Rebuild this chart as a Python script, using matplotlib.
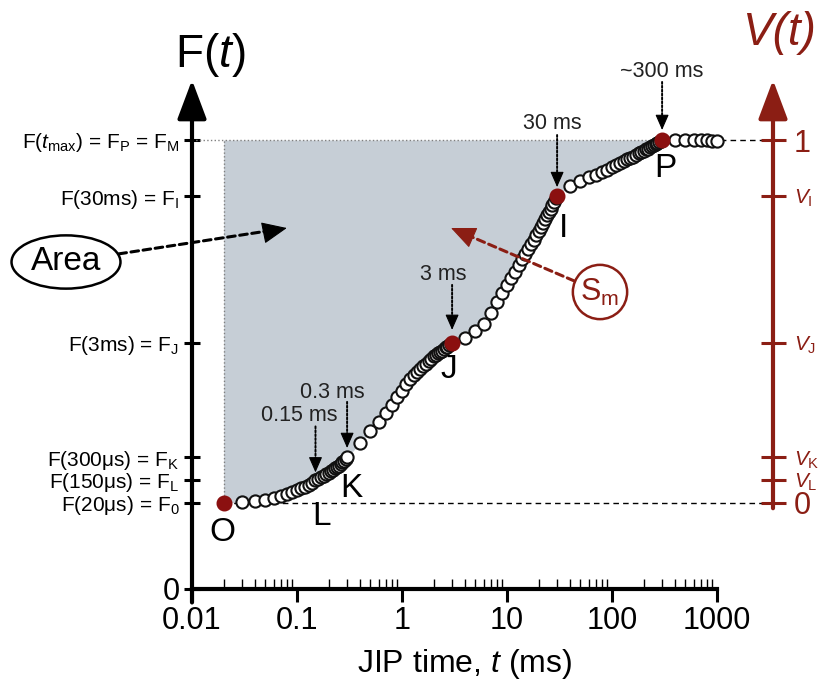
import matplotlib
matplotlib.use("Agg")
import matplotlib.pyplot as plt
from matplotlib.ticker import FixedLocator

plt.rcParams['font.family'] = 'Liberation Sans'
plt.rcParams['mathtext.fontset'] = 'custom'
plt.rcParams['mathtext.rm'] = 'Liberation Sans'
plt.rcParams['mathtext.it'] = 'Liberation Sans:italic'
plt.rcParams['mathtext.bf'] = 'Liberation Sans:bold'

# OJIP fluorescence transient, relative units (F_M = 1)
time_ms = [0.02, 0.03, 0.04, 0.05, 0.06, 0.07, 0.08, 0.09, 0.10, 0.11,
           0.12, 0.13, 0.14, 0.15, 0.16, 0.17, 0.18, 0.19, 0.20, 0.21,
           0.22, 0.23, 0.24, 0.25, 0.26, 0.27, 0.28, 0.29, 0.30,
           0.4, 0.5, 0.6, 0.7, 0.8, 0.9, 1.0, 1.1, 1.2, 1.3, 1.4, 1.5, 1.6,
           1.7, 1.8, 1.9, 2.0, 2.1, 2.2, 2.3, 2.4, 2.5, 2.6, 2.7, 2.8, 2.9, 3.0,
           4, 5, 6, 7, 8, 9, 10, 11, 12, 13, 14, 15, 16, 17, 18, 19, 20, 21,
           22, 23, 24, 25, 26, 27, 28, 29, 30,
           40, 50, 60, 70, 80, 90, 100, 110, 120, 130, 140, 150, 160, 170,
           180, 190, 200, 210, 220, 230, 240, 250, 260, 270, 280, 290, 300,
           400, 500, 600, 700, 800, 900, 1000]
fluor = [0.192, 0.193, 0.195, 0.199, 0.203, 0.207, 0.211, 0.216, 0.221, 0.224,
         0.228, 0.232, 0.237, 0.243, 0.246, 0.249, 0.252, 0.256, 0.259, 0.262,
         0.266, 0.269, 0.272, 0.275, 0.278, 0.283, 0.286, 0.290, 0.293,
         0.325, 0.351, 0.373, 0.392, 0.410, 0.428, 0.442, 0.456, 0.467, 0.476,
         0.483, 0.489, 0.496, 0.502, 0.508, 0.513, 0.518, 0.521, 0.526, 0.528,
         0.531, 0.535, 0.538, 0.540, 0.543, 0.546, 0.548,
         0.559, 0.574, 0.591, 0.615, 0.639, 0.659, 0.677, 0.693, 0.707, 0.722,
         0.734, 0.746, 0.757, 0.768, 0.778, 0.788, 0.797, 0.806, 0.815, 0.824,
         0.832, 0.840, 0.847, 0.855, 0.863, 0.870, 0.875,
         0.898, 0.908, 0.917, 0.923, 0.929, 0.934, 0.940, 0.944, 0.949, 0.953,
         0.957, 0.960, 0.963, 0.967, 0.970, 0.973, 0.976, 0.979, 0.981, 0.984,
         0.987, 0.989, 0.991, 0.993, 0.996, 0.998, 1.000,
         1.000, 1.000, 0.999, 0.999, 0.999, 0.998, 0.998]

key_names = ['O', 'L', 'K', 'J', 'I', 'P']
key_times = [0.02, 0.15, 0.3, 3.0, 30, 300]
red_names = ['O', 'J', 'I', 'P']
time_notes = {'L': '0.15 ms', 'K': '0.3 ms', 'J': '3 ms', 'I': '30 ms', 'P': '~300 ms'}

f_labels = ['0', 'F(20μs) = F$_\\mathrm{0}$', 'F(150μs) = F$_\\mathrm{L}$',
            'F(300μs) = F$_\\mathrm{K}$', 'F(3ms) = F$_\\mathrm{J}$',
            'F(30ms) = F$_\\mathrm{I}$',
            'F($t_\\mathrm{max}$) = F$_\\mathrm{P}$ = F$_\\mathrm{M}$']
v_labels = ['0', '$V_\\mathrm{L}$', '$V_\\mathrm{K}$', '$V_\\mathrm{J}$',
            '$V_\\mathrm{I}$', '1']
x_ticks = [0.01, 0.1, 1, 10, 100, 1000]
x_ticklabels = ['0.01', '0.1', '1', '10', '100', '1000']

RED = '#8b1e14'
DOT = '#8b1010'
HEAD = '-|>,head_length=0.8,head_width=0.35'

key_f = {n: fluor[time_ms.index(t)] for n, t in zip(key_names, key_times)}
key_t = dict(zip(key_names, key_times))
F0, FM = key_f['O'], key_f['P']

fig = plt.figure(figsize=(8.23, 6.84), dpi=100)
ax = fig.add_axes([192 / 823, 95 / 684, 581 / 823, 509 / 684])
ax.set_xscale('log')
xmax = 0.01 * 10 ** (581 / 105)
ytop = 509 / 449
ax.set_xlim(0.01, xmax)
ax.set_ylim(0, ytop)


def head(xy, off, color, scale=12, gap=0):
    # solid arrow head at xy, pointing from offset `off` (points)
    ax.annotate('', xy, xytext=off, textcoords='offset points', zorder=7,
                arrowprops=dict(arrowstyle=HEAD, mutation_scale=scale, lw=0.8,
                                color=color, shrinkA=0, shrinkB=gap))


# shaded area above the curve
t_area = [t for t in time_ms if t <= 300]
f_area = fluor[:len(t_area)]
ax.fill_between(t_area, f_area, FM, color='#c6ced6', lw=0, zorder=1)
ax.plot([0.02, 0.02], [F0, FM], ls=':', color='#808080', lw=1, zorder=2)
ax.plot([0.01, 300], [FM, FM], ls=':', color='#808080', lw=1, zorder=2)
ax.plot([300, xmax], [FM, FM], ls=(0, (4, 3)), color='black', lw=1, zorder=2)
ax.plot([0.02, xmax], [F0, F0], ls=(0, (4, 3)), color='black', lw=1, zorder=2)

ax.plot(time_ms, fluor, 'o', mfc='white', mec='#111111', ms=8.8, mew=1.5, zorder=4)
ax.plot([key_t[n] for n in red_names], [key_f[n] for n in red_names], 'o',
        color=DOT, ms=10.5, zorder=5)

letter_off = {'O': (-1, -21.6), 'L': (4, -26.3), 'K': (2.9, -22.7),
              'J': (-2.2, -19.4), 'I': (4.3, -23), 'P': (2.2, -20.2)}
for n in key_names:
    ax.annotate(n, (key_t[n], key_f[n]), xytext=letter_off[n], textcoords='offset points',
                ha='center', va='center', fontsize=24, zorder=6)

note_off = {'L': (-11.9, 46.4, 38.5, 5.4), 'K': (-10.8, 47, 40, 6.8),
            'J': (-6.5, 49, 41.8, 9.4), 'I': (-3.6, 52.6, 44, 6.5),
            'P': (0, 49, 41.8, 7.2)}
for n, txt in time_notes.items():
    dx, dy, ya, gap = note_off[n]
    xy = (key_t[n], key_f[n])
    ax.annotate(txt, xy, xytext=(dx, dy), textcoords='offset points',
                ha='center', va='center', fontsize=15.5, color='#222222', zorder=6)
    ax.annotate('', xy, xytext=(0, ya), textcoords='offset points', zorder=6,
                arrowprops=dict(arrowstyle='-', lw=1.4, ls=(0, (1, 1)), color='black',
                                shrinkA=0, shrinkB=gap + 4))
    head(xy, (0, gap + 9), 'black', scale=12, gap=gap)

# x axis
ax.set_xticks(x_ticks)
ax.set_xticklabels(x_ticklabels)
ax.xaxis.set_minor_locator(FixedLocator([k * 10.0 ** d for d in range(-2, 3) for k in range(2, 10)]))
ax.xaxis.set_minor_formatter(plt.NullFormatter())
ax.tick_params(axis='x', which='major', direction='out', length=9.5, width=2.2,
               labelsize=22, pad=3)
ax.tick_params(axis='x', which='minor', direction='in', length=7, width=1)
ax.spines['bottom'].set_linewidth(3)
ax.spines['bottom'].set_bounds(0.01, 1000)
for s in ['left', 'right', 'top']:
    ax.spines[s].set_visible(False)
ax.set_xlabel('JIP time, $t$ (ms)', fontsize=23)
ax.xaxis.set_label_coords(0.47, -0.114)

# left F axis
f_ticks = [0, F0, key_f['L'], key_f['K'], key_f['J'], key_f['I'], FM]
ax.set_yticks(f_ticks)
ax.set_yticklabels(f_labels)
ax.tick_params(axis='y', direction='inout', length=12, width=2.2, labelsize=15, pad=3)
ax.get_yticklabels()[0].set_fontsize(22)
ax.annotate('', xy=(0, ytop), xycoords=('axes fraction', 'data'),
            xytext=(0, -0.03), textcoords=('axes fraction', 'data'),
            arrowprops=dict(arrowstyle='-|>,head_length=1.2,head_width=0.45', lw=3,
                            color='black', mutation_scale=20, shrinkA=0, shrinkB=0))

# right V axis
ax2 = ax.twinx()
ax2.set_ylim((0 - F0) / (FM - F0), (ytop - F0) / (FM - F0))
for s in ax2.spines.values():
    s.set_visible(False)
v_ticks = [(f - F0) / (FM - F0) for f in f_ticks[1:]]
ax2.set_yticks(v_ticks)
ax2.set_yticklabels(v_labels)
ax2.tick_params(axis='y', direction='inout', length=18, width=2.2, color=RED,
                labelcolor=RED, labelsize=15, pad=6)
ax2.get_yticklabels()[0].set_fontsize(22)
ax2.get_yticklabels()[-1].set_fontsize(22)
vtop = (ytop - F0) / (FM - F0)
ax2.annotate('', xy=(1, vtop), xycoords=('axes fraction', 'data'),
             xytext=(1, -0.015), textcoords=('axes fraction', 'data'),
             arrowprops=dict(arrowstyle='-|>,head_length=1.2,head_width=0.45', lw=3,
                             color=RED, mutation_scale=20, shrinkA=0, shrinkB=0))

# callouts
area_tip = (0.08, 0.804)
ax.annotate('Area', xy=area_tip, xytext=(66, 684 - 262), textcoords='figure pixels',
            ha='center', va='center', fontsize=24, zorder=7,
            bbox=dict(boxstyle='ellipse,pad=0.1', fc='white', ec='black', lw=1.8),
            arrowprops=dict(arrowstyle='-', ls=(0, (2.5, 1.5)), lw=2.2, color='black',
                            shrinkA=0, shrinkB=6))
head(area_tip, (-12.7, -2.6), 'black', scale=20)

sm_tip = (2.93, 0.804)
ax.annotate('S$_\\mathrm{m}$', xy=sm_tip, xytext=(600, 684 - 292), textcoords='figure pixels',
            ha='center', va='center', fontsize=22, color=RED, zorder=7,
            bbox=dict(boxstyle='circle,pad=0.25', fc='white', ec=RED, lw=1.8),
            arrowprops=dict(arrowstyle='-', ls=(0, (2.5, 1.5)), lw=2.2, color=RED,
                            shrinkA=0, shrinkB=6))
head(sm_tip, (11.9, -5.2), RED, scale=20)

fig.text(210 / 823, 1 - 55 / 684, 'F($t$)', fontsize=33, ha='center', va='center')
fig.text(779 / 823, 1 - 33 / 684, 'V(t)', fontsize=33, style='italic', color=RED,
         ha='center', va='center')

fig.savefig('out.png', dpi=100, facecolor='white')
